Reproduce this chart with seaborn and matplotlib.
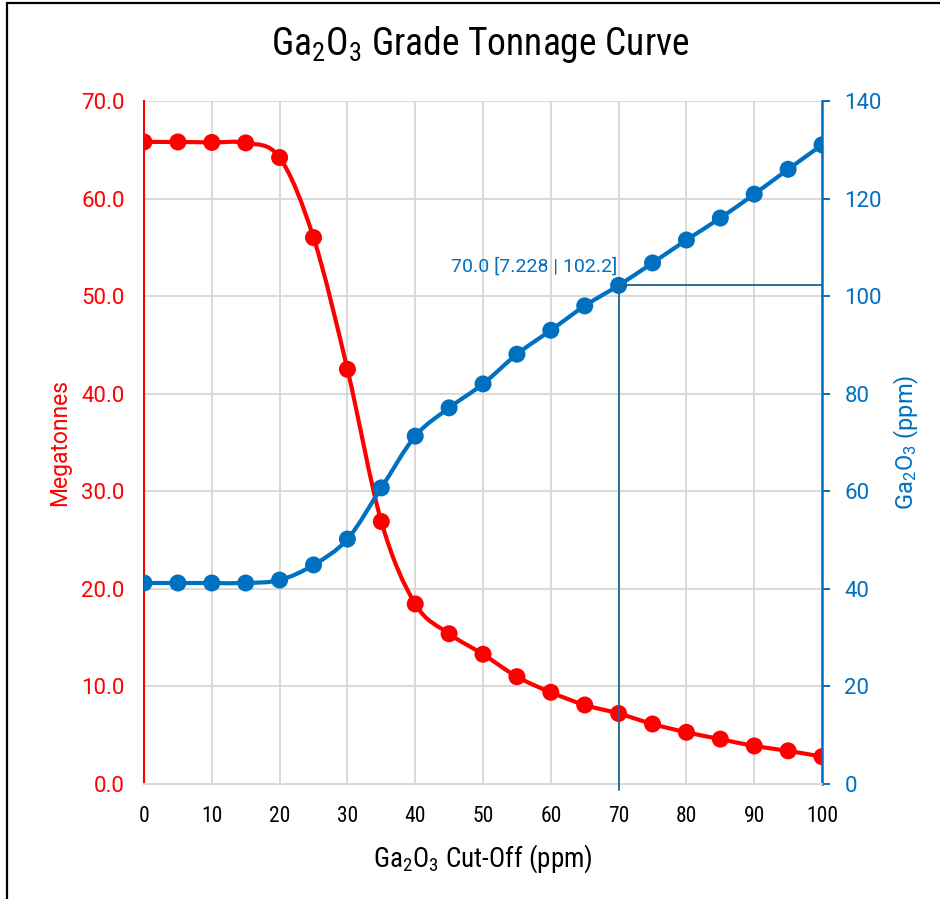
import numpy as np
import pandas as pd
import seaborn as sns
import matplotlib.pyplot as plt
from matplotlib import font_manager as fm
from matplotlib.path import Path
from matplotlib.patches import PathPatch
from matplotlib.lines import Line2D

# values
cutoff = [0, 5, 10, 15, 20, 25, 30, 35, 40, 45, 50,
          55, 60, 65, 70, 75, 80, 85, 90, 95, 100]
tonnes = [65.8, 65.8, 65.75, 65.7, 64.2, 56.0, 42.5, 26.9, 18.45, 15.4, 13.3,
          11.0, 9.4, 8.1, 7.228, 6.15, 5.3, 4.6, 3.9, 3.4, 2.8]
grade = [41.2, 41.2, 41.2, 41.2, 41.8, 44.9, 50.2, 60.7, 71.3, 77.1, 82.0,
         88.1, 93.0, 98.0, 102.2, 106.8, 111.5, 116.0, 120.9, 126.0, 131.0]
x_ticks = [0, 10, 20, 30, 40, 50, 60, 70, 80, 90, 100]
mt_ticks = [0, 10, 20, 30, 40, 50, 60, 70]
ppm_ticks = [0, 20, 40, 60, 80, 100, 120, 140]
pick_cutoff = 70.0
pick_tonnes = 7.228
pick_grade = 102.2

RED = '#FF0000'
BLUE = '#0070C0'
LEADER = '#1F6391'
GRID = '#D9D9D9'

installed = {f.name for f in fm.fontManager.ttflist}


def first_font(cands):
    for c in cands:
        if c in installed:
            return [c, 'DejaVu Sans']
    return ['DejaVu Sans']


NARROW = first_font(['Aptos Narrow', 'Roboto Condensed', 'Archivo Narrow',
                     'PT Sans Narrow', 'Liberation Sans Narrow', 'Roboto'])
REG = first_font(['Aptos', 'Roboto', 'Open Sans'])

df = pd.DataFrame({'cutoff': cutoff, 'tonnes': tonnes, 'grade': grade})


def smooth_path(x, y):
    # excel-like smoothed line: catmull-rom segments as cubic beziers
    p = np.column_stack([x, y]).astype(float)
    ext = np.vstack([p[0], p, p[-1]])
    verts = [p[0]]
    codes = [Path.MOVETO]
    for i in range(len(p) - 1):
        c1 = ext[i + 1] + (ext[i + 2] - ext[i]) / 6
        c2 = ext[i + 2] - (ext[i + 3] - ext[i + 1]) / 6
        verts += [c1, c2, p[i + 1]]
        codes += [Path.CURVE4] * 3
    return Path(verts, codes)


sns.set_style('white')
plt.rcParams['font.family'] = REG
plt.rcParams['mathtext.default'] = 'regular'
plt.rcParams['text.color'] = 'black'
plt.rcParams['axes.labelcolor'] = 'black'
plt.rcParams['xtick.color'] = 'black'

fig = plt.figure(figsize=(9.4, 8.99), dpi=100)
ax = fig.add_axes([0.1532, 0.1279, 0.8745 - 0.1532, 0.8877 - 0.1279])
ax2 = ax.twinx()

# tonnage (left)
ax.add_patch(PathPatch(smooth_path(df.cutoff, df.tonnes), fill=False,
                       edgecolor=RED, lw=3, zorder=3, capstyle='round'))
sns.scatterplot(data=df, x='cutoff', y='tonnes', ax=ax, color=RED, s=150,
                edgecolor='none', zorder=4, legend=False)

# grade (right)
ax2.add_patch(PathPatch(smooth_path(df.cutoff, df.grade), fill=False,
                        edgecolor=BLUE, lw=3, zorder=3, capstyle='round'))
sns.scatterplot(data=df, x='cutoff', y='grade', ax=ax2, color=BLUE, s=150,
                edgecolor='none', zorder=4, legend=False)

# leader lines for the picked cut-off
ax2.plot([pick_cutoff, pick_cutoff], [-1.2, pick_grade], color=LEADER, lw=1.3,
         clip_on=False, zorder=5)
ax2.plot([pick_cutoff, 100], [pick_grade, pick_grade], color=LEADER, lw=1.3,
         clip_on=False, zorder=5)
ax2.text(pick_cutoff - 0.2, pick_grade + 2.0,
         f'{pick_cutoff:.1f} [{pick_tonnes:.3f} | {pick_grade:.1f}]',
         color=BLUE, fontsize=14, ha='right', va='bottom', family=REG)

ax.set_xlim(0, 100)
ax.set_ylim(0, 70)
ax2.set_ylim(0, 140)
ax.set_xticks(x_ticks)
ax.set_yticks(mt_ticks)
ax2.set_yticks(ppm_ticks)
ax.set_xticklabels([str(v) for v in x_ticks], family=NARROW, fontsize=15.5,
                   color='black')
ax.set_yticklabels([f'{v:.1f}' for v in mt_ticks], color=RED, fontsize=16)
ax2.set_yticklabels([str(v) for v in ppm_ticks], color=BLUE, fontsize=16)

ax.grid(True, color=GRID, lw=1.4)
ax.set_axisbelow(True)
ax2.grid(False)
ax.tick_params(axis='x', length=0, pad=16)
ax.tick_params(axis='y', length=0, pad=14)
ax2.tick_params(axis='y', length=6, width=1.4, color=BLUE, direction='out',
                pad=10)

for a in (ax, ax2):
    a.spines['top'].set_visible(False)
    a.spines['bottom'].set_color(GRID)
    a.spines['bottom'].set_linewidth(1.4)
    a.spines['left'].set_visible(False)
    a.spines['right'].set_visible(False)
ax.spines['left'].set_visible(True)
ax.spines['left'].set_color(RED)
ax.spines['left'].set_linewidth(1.5)
ax2.spines['right'].set_visible(True)
ax2.spines['right'].set_color(BLUE)
ax2.spines['right'].set_linewidth(1.8)

ax.set_xlabel('Ga$_2$O$_3$ Cut-Off (ppm)', family=NARROW, fontsize=19.5,
              labelpad=11, color='black')
ax.set_ylabel('Megatonnes', color=RED, fontsize=16.5, labelpad=7)
ax2.set_ylabel('Ga$_2$O$_3$ (ppm)', color=BLUE, fontsize=17, labelpad=7)
fig.text(0.511, 0.95, 'Ga$_2$O$_3$ Grade Tonnage Curve', ha='center',
         va='center', family=NARROW, fontsize=27, color='black')

# outer frame visible on left and top
fig.add_artist(Line2D([7.5 / 940, 7.5 / 940], [0, 1 - 3 / 899], color='black',
                      lw=1.6, transform=fig.transFigure))
fig.add_artist(Line2D([7.5 / 940, 1], [1 - 3 / 899, 1 - 3 / 899], color='black',
                      lw=1.6, transform=fig.transFigure))

fig.savefig('out.png', dpi=100, facecolor='white')
